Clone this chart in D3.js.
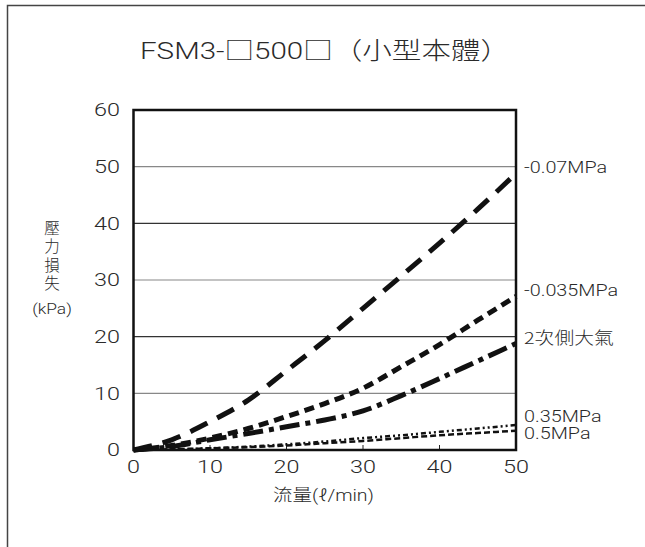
<!DOCTYPE html>
<head>
  <meta charset="utf-8">
  <script src="https://cdnjs.cloudflare.com/ajax/libs/d3/7.8.5/d3.min.js"></script>
  <style>
    body { margin:0; background:#fff; }
    text { font-family: Roboto, "Liberation Sans", "Noto Sans CJK TC", sans-serif; font-weight:300; fill:#2a2a2a; }
    .cjk { font-family: "Noto Sans CJK TC", "Liberation Sans", sans-serif; font-weight:300; }
  </style>
</head>
<body>
  <div id="vis"></div>
  <script>
    // flow (l/min) vs pressure loss (kPa)
    var flow = [0, 5, 10, 15, 20, 25, 30, 35, 40, 45, 50];
    var vac07 = [0, 1.8, 5.0, 8.8, 14.0, 19.3, 25.0, 30.7, 36.5, 42.5, 48.8];
    var vac035 = [0, 0.8, 2.1, 3.8, 5.9, 8.2, 10.9, 14.7, 18.6, 22.9, 27.1];
    var atm = [0, 0.6, 1.8, 2.9, 4.1, 5.3, 6.9, 9.6, 12.6, 15.7, 18.8];
    var p035 = [0, 0.1, 0.3, 0.6, 1.0, 1.5, 2.1, 2.6, 3.2, 3.8, 4.4];
    var p05 = [0, 0.1, 0.3, 0.5, 0.8, 1.2, 1.6, 2.1, 2.6, 3.0, 3.4];
    var seriesNames = ["-0.07MPa", "-0.035MPa", "2次側大氣", "0.35MPa", "0.5MPa"];
    var xTicks = [0, 10, 20, 30, 40, 50];
    var yTicks = [0, 10, 20, 30, 40, 50, 60];

    var width = 645, height = 547;
    var svg = d3.select("#vis").append("svg")
      .attr("width", width)
      .attr("height", height);

    var x = d3.scaleLinear().domain([0, 50]).range([133.5, 516]);
    var y = d3.scaleLinear().domain([0, 60]).range([450, 110]);

    // text drawn with a horizontal stretch like the original artwork
    function label(txt, px, py, size, sx, anchor, cls) {
      return svg.append("text")
        .attr("class", cls || null)
        .attr("transform", "translate(" + px + "," + py + ") scale(" + sx + ",1)")
        .attr("dy", "0.35em")
        .attr("text-anchor", anchor)
        .style("font-size", size + "px")
        .text(txt);
    }

    // outer frame (top and left only)
    svg.append("path")
      .attr("d", "M7.5,547V5.5H645")
      .attr("fill", "none")
      .attr("stroke", "#444")
      .attr("stroke-width", 1.5);

    var title = svg.append("text")
      .attr("x", 140).attr("y", 59)
      .attr("textLength", 370)
      .attr("lengthAdjust", "spacingAndGlyphs")
      .style("font-size", "24px");
    [["FSM3-", null], ["□", "cjk"], ["500", null], ["□", "cjk"], ["（小型本體）", "cjk"]].forEach(function(p) {
      title.append("tspan").attr("class", p[1]).text(p[0]);
    });

    // grid
    svg.selectAll(".grid").data(yTicks.slice(1, 6)).enter().append("line")
      .attr("x1", x(0)).attr("x2", x(50))
      .attr("y1", function(d) { return y(d); })
      .attr("y2", function(d) { return y(d); })
      .attr("stroke", function(d, i) { return i % 2 ? "#333" : "#888"; })
      .attr("stroke-width", 1.2);

    // bottom inner ticks
    svg.selectAll(".tk").data(xTicks.slice(1, 5)).enter().append("line")
      .attr("x1", function(d) { return x(d); })
      .attr("x2", function(d) { return x(d); })
      .attr("y1", y(0)).attr("y2", y(0) - 5)
      .attr("stroke", "#222").attr("stroke-width", 1);

    yTicks.forEach(function(t) { label(t, 120, y(t), 18, 1.3, "end"); });
    xTicks.forEach(function(t) { label(t, x(t), 466.5, 18, 1.3, "middle"); });

    // series
    var series = [vac07, vac035, atm, p035, p05];
    var widths = [5, 5, 5, 2.5, 2.5];
    var dashes = ["19,11", "10,6", "20,6,5,6", "5,3,2,3,2,3", "6,3"];
    var line = d3.line()
      .x(function(d, i) { return x(flow[i]); })
      .y(function(d) { return y(d); })
      .curve(d3.curveMonotoneX);

    svg.selectAll(".series").data(series).enter().append("path")
      .attr("d", line)
      .attr("fill", "none")
      .attr("stroke", "#111")
      .attr("stroke-width", function(d, i) { return widths[i]; })
      .attr("stroke-dasharray", function(d, i) { return dashes[i]; });

    // plot frame
    svg.append("rect")
      .attr("x", x(0)).attr("y", y(60))
      .attr("width", x(50) - x(0)).attr("height", y(0) - y(60))
      .attr("fill", "none").attr("stroke", "#111").attr("stroke-width", 2.5);

    // right labels
    var labelY = [167, 290, 338, 416, 433.5];
    seriesNames.forEach(function(n, i) {
      label(n, 524, labelY[i], 16.5, 1.2, "start", i == 2 ? "cjk" : null);
    });

    // y label: vertical text, then unit below
    svg.append("text")
      .attr("class", "cjk")
      .attr("x", 52).attr("y", 220)
      .style("writing-mode", "vertical-rl")
      .style("font-size", "15.5px")
      .style("letter-spacing", "3px")
      .text("壓力損失");
    label("(kPa)", 52, 309, 15, 1.16, "middle");

    var xl = label("", 0, 495, 17, 1.15, "start");
    xl.append("tspan").attr("class", "cjk").text("流量");
    xl.append("tspan").text("(ℓ/min)");
    // centre the combined label
    var w = xl.node().getComputedTextLength();
    xl.attr("transform", "translate(" + (323.5 - w * 1.15 / 2) + ",495) scale(1.15,1)");
  </script>
</body>
